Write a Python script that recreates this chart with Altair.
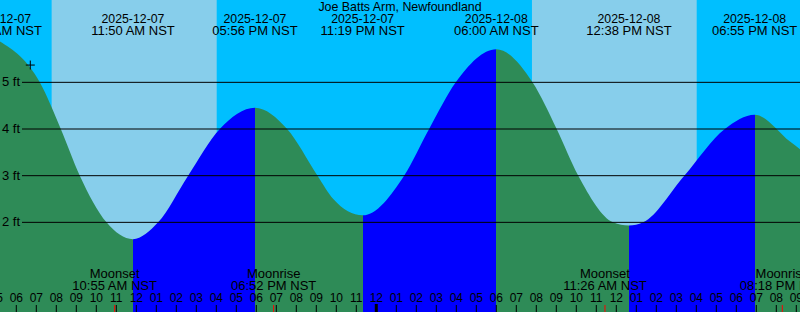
import altair as alt
import pandas as pd

# ---- data (time = hours since 2025-12-07 00:00 NST) ----
tide_t = [5.17, 7.175, 8.225, 9.175, 10.51, 11.833, 13.09, 14.59, 16.175, 17.933,
          19.54, 21.06, 21.85, 23.317, 25.39, 26.64, 27.975, 30.0, 31.81, 33.02,
          34.1, 35.84, 36.633, 37.34, 39.4, 41.425, 42.917, 44.685, 45.2]
tide_h = [5.88, 5.0, 4.0, 3.0, 2.0, 1.64, 2.0, 3.0, 4.0, 4.456,
          4.0, 3.0, 2.5, 2.15, 3.0, 4.0, 5.0, 5.707, 5.0, 4.0,
          3.0, 2.0, 1.93, 2.0, 3.0, 4.0, 4.306, 3.73, 3.56]

ext_t = [5.17, 11.833, 17.933, 23.317, 30.0, 36.633, 42.917]
ext_date = ["2025-12-07", "2025-12-07", "2025-12-07", "2025-12-07",
            "2025-12-08", "2025-12-08", "2025-12-08"]
ext_time = ["05:10 AM NST", "11:50 AM NST", "05:56 PM NST", "11:19 PM NST",
            "06:00 AM NST", "12:38 PM NST", "06:55 PM NST"]

moon_t = [10.917, 18.867, 35.433, 44.3]
moon_kind = ["Moonset", "Moonrise", "Moonset", "Moonrise"]
moon_time = ["10:55 AM NST", "06:52 PM NST", "11:26 AM NST", "08:18 PM NST"]

day_start = [7.767, 31.783]
day_end = [16.02, 40.02]

levels = [2, 3, 4, 5]
level_labels = ["2 ft", "3 ft", "4 ft", "5 ft"]

hours = list(range(5, 46))
hour_labels = [f"{(h - 1) % 12 + 1:02d}" for h in hours]
midnight = [24]

now_t = [6.7]
now_h = [5.37]

title_text = ["Joe Batts Arm, Newfoundland"]

# ---- styling ----
NIGHT = "#00BFFF"
DAY = "#87CEEB"
FALL = "#2E8B57"
RISE = "#0000FF"
FONT = "Liberation Sans"

xs = alt.Scale(domain=[5.185, 45.185], nice=False, zero=False)
ys = alt.Scale(domain=[0.079, 6.764], nice=False, zero=False)

# gradient stops: hard colour switch at every extreme (offsets relative to curve extent)
t0, tN = tide_t[0], tide_t[-1]
stops = [alt.GradientStop(color=FALL, offset=0)]
cur = FALL
for te in ext_t[1:]:
    o = (te - t0) / (tN - t0)
    nxt = RISE if cur == FALL else FALL
    stops.append(alt.GradientStop(color=cur, offset=o))
    stops.append(alt.GradientStop(color=nxt, offset=o))
    cur = nxt
stops.append(alt.GradientStop(color=cur, offset=1))

tide_df = pd.DataFrame({"t": tide_t, "h": tide_h})
ext_df = pd.DataFrame({"t": ext_t, "date": ext_date, "time": ext_time})
moon_df = pd.DataFrame({"t": moon_t, "kind": moon_kind, "time": moon_time})
day_df = pd.DataFrame({"start": day_start, "end": day_end})
lvl_df = pd.DataFrame({"lvl": levels, "label": level_labels})
hour_df = pd.DataFrame({"t": hours, "label": hour_labels})
mid_df = pd.DataFrame({"t": midnight})
now_df = pd.DataFrame({"t": now_t, "h": now_h})
title_df = pd.DataFrame({"title": title_text})


def txt(size):
    return dict(align="center", baseline="alphabetic", font=FONT, fontSize=size, color="black")


day = alt.Chart(day_df).mark_rect(color=DAY).encode(
    x=alt.X("start:Q", scale=xs, axis=None),
    x2="end:Q",
    y=alt.value(0),
    y2=alt.value(312),
)

tide = alt.Chart(tide_df).mark_area(
    interpolate="monotone",
    clip=True,
    color=alt.Gradient(gradient="linear", stops=stops, x1=0, x2=1, y1=0, y2=0),
).encode(
    x=alt.X("t:Q", scale=xs, axis=None),
    y=alt.Y("h:Q", scale=ys, axis=None),
)

grid = alt.Chart(lvl_df).mark_rule(color="black", strokeWidth=1).encode(
    y=alt.Y("lvl:Q", scale=ys, axis=None),
    x=alt.value(22),
    x2=alt.value(800),
)

grid_lab = alt.Chart(lvl_df).mark_text(
    align="left", baseline="middle", font=FONT, fontSize=13, color="black"
).encode(
    y=alt.Y("lvl:Q", scale=ys, axis=None),
    x=alt.value(2),
    text="label:N",
)

ext_date_t = alt.Chart(ext_df).mark_text(**txt(12.3)).encode(
    x=alt.X("t:Q", scale=xs, axis=None), y=alt.value(23), text="date:N")

ext_time_t = alt.Chart(ext_df).mark_text(**txt(13)).encode(
    x=alt.X("t:Q", scale=xs, axis=None), y=alt.value(35), text="time:N")

title = alt.Chart(title_df).mark_text(**txt(12.4)).encode(
    x=alt.value(400), y=alt.value(11), text="title:N")

moon_kind_t = alt.Chart(moon_df).mark_text(**txt(13)).encode(
    x=alt.X("t:Q", scale=xs, axis=None), y=alt.value(278), text="kind:N")

moon_time_t = alt.Chart(moon_df).mark_text(**txt(13)).encode(
    x=alt.X("t:Q", scale=xs, axis=None), y=alt.value(290), text="time:N")

hour_lab = alt.Chart(hour_df).mark_text(**txt(12)).encode(
    x=alt.X("t:Q", scale=xs, axis=None), y=alt.value(302), text="label:N")

hour_tick = alt.Chart(hour_df).mark_rule(color="black", strokeWidth=1).encode(
    x=alt.X("t:Q", scale=xs, axis=None), y=alt.value(305), y2=alt.value(312)
)

mid_tick = alt.Chart(mid_df).mark_rule(color="black", strokeWidth=3).encode(
    x=alt.X("t:Q", scale=xs, axis=None), y=alt.value(304), y2=alt.value(312)
)

moon_tick = alt.Chart(moon_df).mark_rule(color="red", strokeWidth=1).encode(
    x=alt.X("t:Q", scale=xs, axis=None), y=alt.value(305), y2=alt.value(312)
)

now_mark = alt.Chart(now_df).mark_point(
    shape="M-1,0L1,0M0,-1L0,1", filled=False, color="black", strokeWidth=1, size=81, opacity=1
).encode(
    x=alt.X("t:Q", scale=xs, axis=None),
    y=alt.Y("h:Q", scale=ys, axis=None),
)

chart = alt.layer(
    day, tide, grid, grid_lab, ext_date_t, ext_time_t, title,
    moon_kind_t, moon_time_t, hour_lab, hour_tick, mid_tick, moon_tick, now_mark,
).properties(
    width=800, height=312,
    autosize=alt.AutoSizeParams(type="none"),
    padding=0,
).configure(background=NIGHT).configure_view(stroke=None)

chart.save("out.html", embed_options={"renderer": "svg", "actions": False})
